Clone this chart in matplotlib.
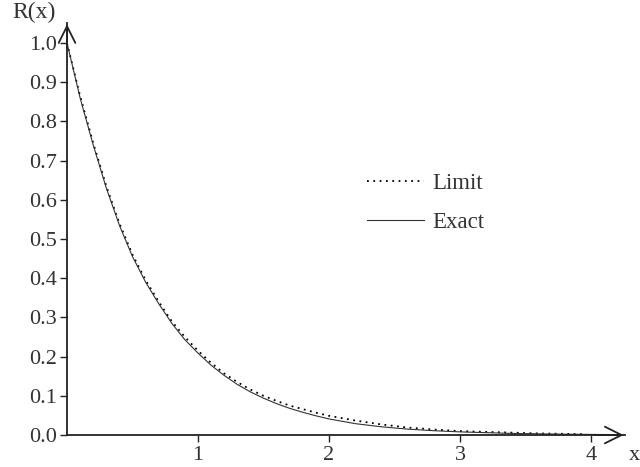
import matplotlib
matplotlib.use("Agg")
import matplotlib.pyplot as plt

plt.rcParams['font.family'] = ['Liberation Serif', 'DejaVu Serif']

x_exact = [0, 0.1, 0.2, 0.3, 0.4, 0.5, 0.6, 0.7, 0.8, 0.9, 1.0, 1.1, 1.2, 1.3, 1.4, 1.5,
           1.6, 1.7, 1.8, 1.9, 2.0, 2.2, 2.4, 2.6, 2.8, 3.0, 3.2, 3.4, 3.6, 3.8, 4.0, 4.2]
r_exact = [1.00, 0.86, 0.74, 0.63, 0.535, 0.455, 0.39, 0.335, 0.285, 0.243, 0.209, 0.178,
           0.152, 0.129, 0.110, 0.094, 0.080, 0.068, 0.058, 0.049, 0.041, 0.029, 0.021,
           0.015, 0.011, 0.008, 0.006, 0.004, 0.003, 0.002, 0.0015, 0.001]

x_limit = [0, 0.1, 0.2, 0.3, 0.4, 0.5, 0.6, 0.7, 0.8, 0.9, 1.0, 1.1, 1.2, 1.3, 1.4, 1.5,
           1.6, 1.7, 1.8, 1.9, 2.0, 2.2, 2.4, 2.6, 2.8, 3.0, 3.2, 3.4, 3.6, 3.8, 3.95]
r_limit = [1.00, 0.865, 0.745, 0.635, 0.54, 0.46, 0.395, 0.34, 0.29, 0.25, 0.215, 0.184,
           0.157, 0.135, 0.116, 0.100, 0.087, 0.075, 0.066, 0.057, 0.049, 0.037, 0.027,
           0.019, 0.014, 0.010, 0.008, 0.006, 0.004, 0.003, 0.002]

y_ticks = [0.0, 0.1, 0.2, 0.3, 0.4, 0.5, 0.6, 0.7, 0.8, 0.9, 1.0]
x_ticks = [1, 2, 3, 4]

fig = plt.figure(figsize=(6.4, 4.67), dpi=100)
ax = fig.add_axes([0.1047, 0.0685, 0.8719, 0.8822])

ax.plot(x_limit, r_limit, linestyle=(0, (1, 2.5)), color='black', linewidth=1.3, label='Limit')
ax.plot(x_exact, r_exact, linestyle='-', color='#333333', linewidth=0.8, label='Exact')

ax.set_xlim(0, 4.26)
ax.set_ylim(0, 1.051)
ax.set_yticks(y_ticks)
ax.set_yticklabels([f"{v:.1f}" for v in y_ticks])
ax.set_xticks(x_ticks)
ax.set_xticklabels([str(v) for v in x_ticks])

for s in ['top', 'right']:
    ax.spines[s].set_visible(False)
for s in ['left', 'bottom']:
    ax.spines[s].set_linewidth(1.3)
    ax.spines[s].set_color('#222222')

ax.tick_params(axis='both', direction='out', length=5, width=1.0, colors='#222222',
               labelsize=16, labelcolor='#333333')
ax.tick_params(axis='x', pad=3)
ax.tick_params(axis='y', pad=2.5)

# arrows
ax.annotate('', xy=(0, 1.055), xytext=(0, 0.98), xycoords='data',
            arrowprops=dict(arrowstyle='->', lw=1.3, color='#222222', mutation_scale=30),
            annotation_clip=False)
ax.annotate('', xy=(4.27, 0), xytext=(4.0, 0), xycoords='data',
            arrowprops=dict(arrowstyle='->', lw=1.3, color='#222222', mutation_scale=30),
            annotation_clip=False)

fig.text(34 / 640, 1 - 12 / 467, 'R(x)', ha='center', va='center', fontsize=17, color='#333333')
fig.text(634 / 640, 1 - 455 / 467, 'x', ha='center', va='center', fontsize=16, color='#333333')

leg = ax.legend(loc='upper left', bbox_to_anchor=(356 / 640, 1 - 162 / 467),
                bbox_transform=fig.transFigure, frameon=False, fontsize=16.5,
                handlelength=2.45, handletextpad=0.4, labelspacing=0.75, borderpad=0)
for t in leg.get_texts():
    t.set_color('#333333')

fig.savefig('out.png', dpi=100)
